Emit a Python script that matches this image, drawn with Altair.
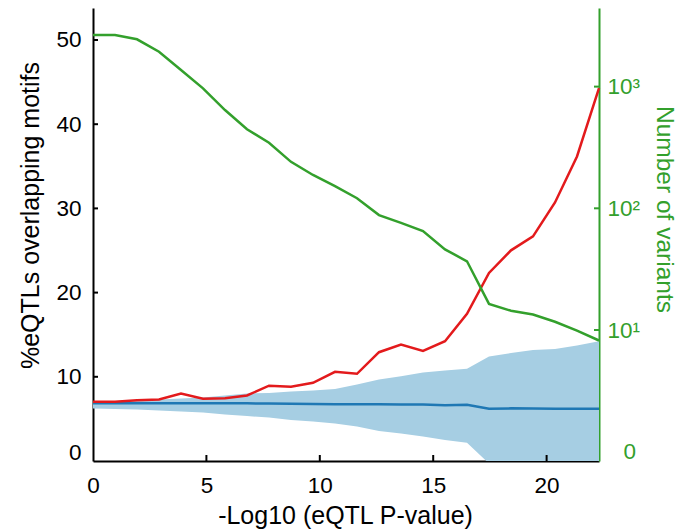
import altair as alt
import pandas as pd

# ---- data ----
x_vals = [0, 0.97, 1.94, 2.91, 3.88, 4.85, 5.82, 6.79, 7.76, 8.73, 9.70, 10.67,
          11.64, 12.61, 13.58, 14.55, 15.52, 16.49, 17.46, 18.43, 19.40, 20.37, 21.34, 22.31]
pct_eqtl = [7.03, 7.03, 7.22, 7.31, 8.02, 7.39, 7.46, 7.78, 8.94, 8.81, 9.29, 10.59,
            10.36, 12.92, 13.83, 13.08, 14.22, 17.47, 22.34, 25.02, 26.68, 30.71, 36.17, 44.28]
null_mean = [6.85, 6.85, 6.85, 6.85, 6.85, 6.85, 6.85, 6.85, 6.83, 6.80, 6.78, 6.75,
             6.75, 6.73, 6.72, 6.71, 6.62, 6.68, 6.20, 6.25, 6.24, 6.22, 6.22, 6.22]
null_lo = [6.24, 6.18, 6.12, 6.00, 5.88, 5.77, 5.53, 5.33, 5.17, 4.88, 4.70, 4.46,
           4.10, 3.55, 3.27, 2.92, 2.50, 2.17, -0.3, -0.5, -0.8, -0.9, -1.3, -1.8]
null_hi = [7.13, 7.13, 7.19, 7.31, 7.43, 7.54, 7.78, 8.02, 8.08, 8.26, 8.38, 8.55,
           9.09, 9.68, 10.07, 10.51, 10.75, 10.97, 12.41, 12.82, 13.18, 13.30, 13.71, 14.22]
n_variants = [2655, 2655, 2448, 1936, 1368, 968, 642, 446, 346, 241, 188, 152,
              121, 88, 76, 65, 46, 36.7, 16.4, 14.4, 13.4, 11.7, 9.9, 8.2]

x_ticks = [5, 10, 15, 20]
left_ticks = [10, 20, 30, 40, 50]
right_ticks = [10, 100, 1000]

FONT = "Liberation Sans"
RED = "#e31a1c"
BLUE = "#1f78b4"
BAND = "#a6cee3"
GREEN = "#33a02c"
W, H = 506, 453

df = pd.DataFrame({"x": x_vals, "pct": pct_eqtl, "mean": null_mean,
                   "lo": null_lo, "hi": null_hi, "n": n_variants})
df_xt = pd.DataFrame({"x": x_ticks})
df_lt = pd.DataFrame({"t": left_ticks})
df_rt = pd.DataFrame({"r": right_ticks})

xscale = alt.Scale(domain=[0, 22.31], nice=False, zero=False)
yscale = alt.Scale(domain=[0, 53.8], nice=False)
rscale = alt.Scale(type="log", domain=[0.839, 4426], nice=False)

xaxis = alt.Axis(values=[0, 5, 10, 15, 20], title="-Log10 (eQTL P-value)", ticks=False,
                 grid=False, domainColor="black", domainWidth=2, labelFont=FONT,
                 labelFontSize=22.5, labelColor="black", labelPadding=13, labelFlush=False,
                 titleFont=FONT, titleFontSize=25, titleFontWeight="normal", titleColor="black",
                 titleX=252, titleY=54.5, titleBaseline="middle", titleAlign="center")
yaxis = alt.Axis(values=[0, 10, 20, 30, 40, 50], title="%eQTLs overlapping motifs", ticks=False,
                 grid=False, domainColor="black", domainWidth=2, labelFont=FONT,
                 labelFontSize=22.5, labelColor="black", labelPadding=12,
                 labelOffset={"condition": {"test": "datum.value === 0", "value": -9}, "value": 0},
                 titleFont=FONT, titleFontSize=25, titleFontWeight="normal", titleColor="black",
                 titleX=-62.7, titleY=207, titleBaseline="middle", titleAlign="center",
                 titleAngle=270)
raxis = alt.Axis(orient="right", values=[1, 10, 100, 1000], ticks=False, grid=False,
                 labelExpr="datum.value < 5 ? '0' : datum.value < 50 ? '10¹' : datum.value < 500 ? '10²' : '10³'",
                 domainColor=GREEN, domainWidth=2, labelFont=FONT, labelFontSize=22.5,
                 labelColor=GREEN, labelAlign="left",
                 labelPadding={"condition": {"test": "datum.value < 5", "value": 24}, "value": 8},
                 title="Number of variants", titleFont=FONT, titleFontSize=24.5,
                 titleFontWeight="normal", titleColor=GREEN, titleAngle=90,
                 titleX=64, titleY=201, titleBaseline="middle", titleAlign="center")

base = alt.Chart(df)
band = base.mark_area(color=BAND, opacity=1, clip=True).encode(
    x=alt.X("x:Q", scale=xscale, axis=xaxis),
    y=alt.Y("lo:Q", scale=yscale, axis=yaxis),
    y2="hi:Q")
mean_line = base.mark_line(color=BLUE, strokeWidth=2.5).encode(
    x=alt.X("x:Q", scale=xscale, axis=xaxis),
    y=alt.Y("mean:Q", scale=yscale, axis=yaxis))
pct_line = base.mark_line(color=RED, strokeWidth=2.5).encode(
    x=alt.X("x:Q", scale=xscale, axis=xaxis),
    y=alt.Y("pct:Q", scale=yscale, axis=yaxis))
lt = alt.Chart(df_lt).mark_rule(color="black", strokeWidth=2).encode(
    y=alt.Y("t:Q", scale=yscale, axis=yaxis), x=alt.value(0), x2=alt.value(5))
xt = alt.Chart(df_xt).mark_rule(color="black", strokeWidth=2).encode(
    x=alt.X("x:Q", scale=xscale, axis=xaxis), y=alt.value(H), y2=alt.value(H - 6))

left = alt.layer(band, mean_line, pct_line, lt, xt)

green_line = base.mark_line(color=GREEN, strokeWidth=2.5).encode(
    x=alt.X("x:Q", scale=xscale, axis=xaxis),
    y=alt.Y("n:Q", scale=rscale, axis=raxis))
rt = alt.Chart(df_rt).mark_rule(color=GREEN, strokeWidth=2).encode(
    y=alt.Y("r:Q", scale=rscale, axis=raxis), x=alt.value(W), x2=alt.value(W - 5))
right = alt.layer(green_line, rt)

chart = alt.layer(left, right).resolve_scale(y="independent").properties(
    width=W, height=H,
    padding={"left": 93, "top": 8, "right": 78, "bottom": 70},
    autosize=alt.AutoSizeParams(type="none"),
).configure_view(stroke=None)

chart.save("out.html", embed_options={"renderer": "svg", "actions": False})
